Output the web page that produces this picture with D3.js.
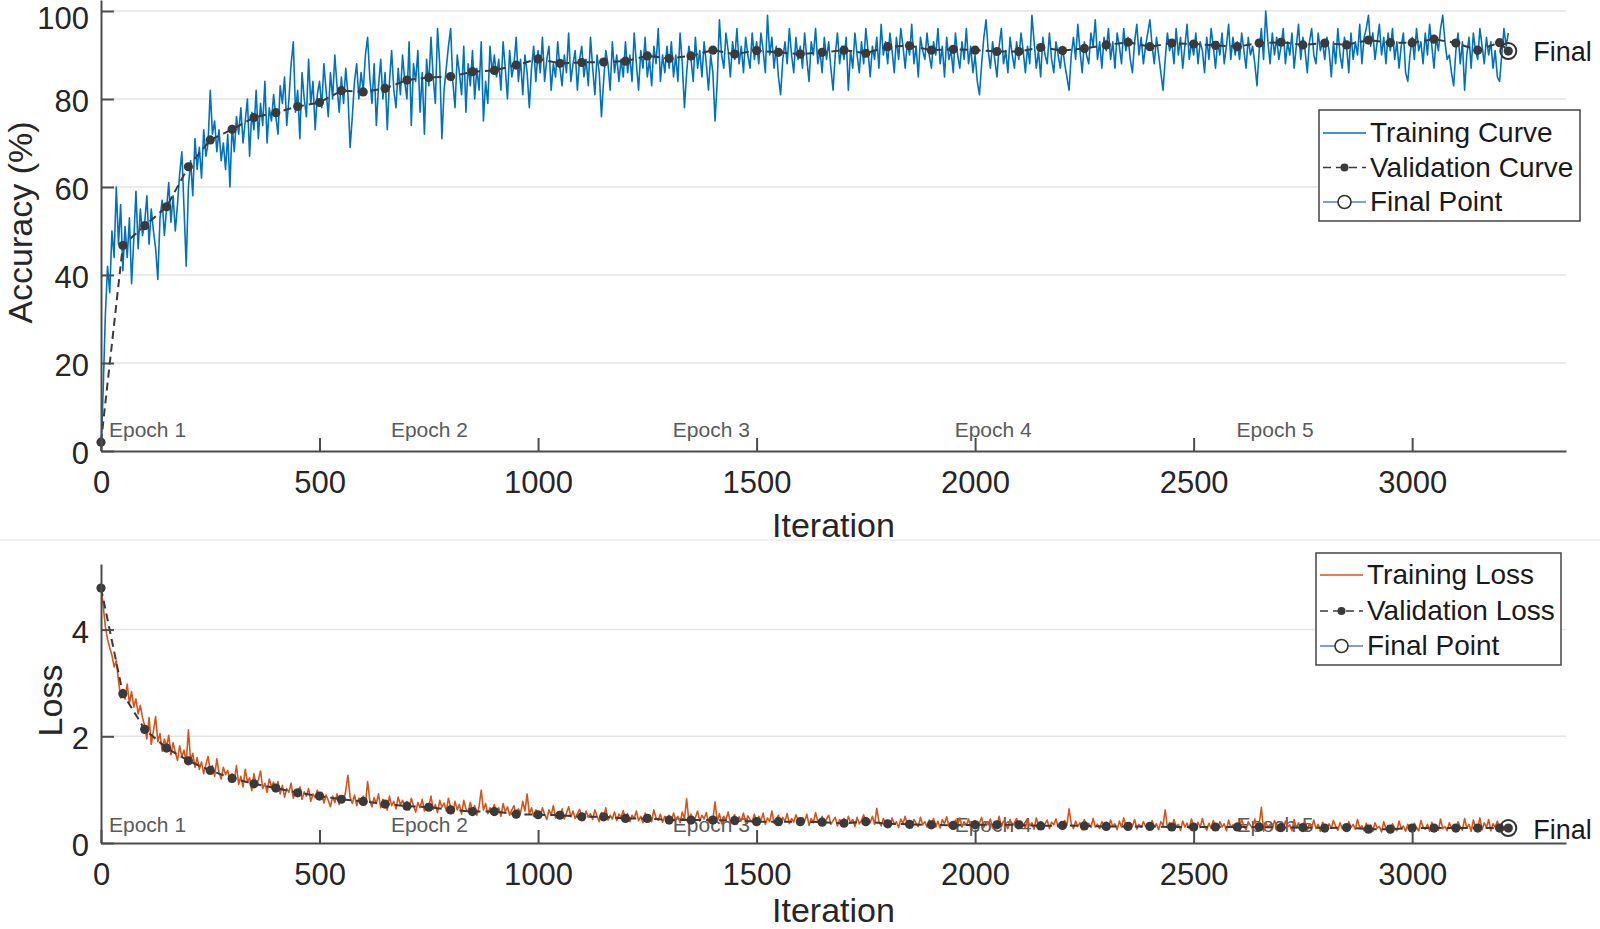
<!DOCTYPE html>
<html>
<head>
<meta charset="utf-8">
<script src="https://cdn.jsdelivr.net/npm/d3@7"></script>
<style>
  body { margin: 0; background: #fff; }
  svg { display: block; font-family: "Liberation Sans", Arial, Helvetica, sans-serif; }
  .grid line { stroke: #e4e4e4; stroke-width: 1.5; }
  .axis path, .axis line { stroke: #4d4d4d; stroke-width: 2; }
  .axis text { font-size: 31px; fill: #262626; font-family: "Liberation Sans", Arial, sans-serif; }
  .axis-label { font-size: 34px; fill: #262626; }
  .epoch { font-size: 21px; fill: #5a5a5a; }
  .legend text { font-size: 28px; fill: #1a1a1a; }
  .final-label { font-size: 27px; fill: #1a1a1a; }
</style>
</head>
<body>
<svg id="chart" width="1600" height="929"></svg>
<script>

// training curves, one value every 5 iterations (0 .. 3220)

let trainStep = 5;

let trainAcc = [
  0, 14, 31, 42, 36, 50, 44, 60, 47, 56, 41, 51, 44, 53, 38, 48, 59, 46, 55, 49,
  52, 58, 47, 55, 50, 46, 39, 53, 57, 49, 55, 61, 52, 58, 50, 56, 63, 68, 55, 42,
  60, 66, 58, 71, 64, 69, 62, 73, 67, 70, 82, 72, 75, 68, 73, 66, 70, 64, 72, 60,
  74, 68, 76, 72, 78, 70, 75, 80, 67, 77, 73, 82, 71, 79, 74, 84, 70, 78, 75, 81,
  76, 72, 83, 79, 85, 74, 80, 88, 93, 77, 82, 71, 86, 80, 76, 89, 79, 84, 73, 81,
  84, 78, 88, 82, 76, 86, 80, 90, 83, 77, 85, 79, 87, 81, 69, 76, 84, 88, 80, 86,
  82, 90, 94, 85, 79, 88, 74, 83, 89, 80, 86, 73, 84, 91, 82, 78, 87, 81, 90, 84,
  80, 93, 74, 88, 84, 91, 77, 86, 72, 89, 83, 94, 85, 79, 96, 88, 71, 82, 87, 92,
  96, 84, 78, 90, 86, 81, 92, 77, 88, 83, 91, 80, 87, 82, 93, 75, 84, 79, 92, 86,
  90, 85, 89, 82, 93, 87, 80, 91, 85, 88, 94, 84, 89, 81, 90, 86, 78, 87, 92, 84,
  91, 86, 94, 84, 89, 92, 82, 88, 85, 93, 87, 83, 90, 86, 95, 84, 88, 91, 82, 89,
  92, 85, 89, 83, 94, 87, 81, 90, 86, 76, 84, 91, 88, 82, 93, 86, 90, 84, 89, 85,
  93, 86, 90, 84, 95, 88, 82, 91, 87, 94, 85, 89, 83, 92, 88, 96, 84, 90, 86, 92,
  87, 93, 85, 90, 84, 95, 88, 78, 86, 92, 89, 84, 94, 87, 91, 85, 93, 88, 82, 90,
  86, 75, 84, 98, 90, 87, 95, 91, 85, 93, 89, 96, 88, 92, 86, 94, 90, 87, 95, 89,
  93, 88, 95, 91, 86, 99, 90, 94, 87, 92, 85, 81, 89, 93, 88, 96, 90, 86, 94, 89,
  92, 87, 95, 89, 84, 93, 90, 96, 88, 91, 86, 94, 89, 93, 87, 82, 90, 95, 88, 92,
  89, 94, 82, 91, 87, 95, 90, 86, 93, 88, 96, 91, 85, 92, 89, 94, 87, 97, 90, 93,
  88, 95, 91, 86, 94, 89, 96, 92, 87, 93, 90, 97, 88, 92, 85, 94, 91, 89, 95, 90,
  87, 93, 90, 96, 88, 92, 85, 94, 89, 91, 86, 95, 90, 87, 93, 89, 96, 88, 92, 86,
  90, 84, 81, 88, 94, 98, 91, 87, 93, 89, 85, 92, 96, 88, 91, 86, 94, 90, 87, 93,
  89, 95, 91, 86, 92, 88, 99, 93, 87, 91, 85, 94, 90, 88, 95, 89, 86, 93, 90, 87,
  92, 88, 85, 82, 90, 94, 89, 97, 91, 86, 93, 90, 88, 95, 92, 98, 89, 93, 87, 94,
  91, 96, 89, 93, 87, 95, 92, 88, 96, 91, 94, 89, 86, 93, 97, 90, 94, 88, 92, 95,
  98, 92, 88, 94, 90, 86, 82, 89, 95, 91, 93, 88, 96, 90, 94, 87, 92, 97, 89, 93,
  90, 95, 88, 93, 91, 86, 94, 89, 96, 92, 87, 93, 90, 95, 88, 92, 97, 89, 94, 90,
  93, 89, 95, 91, 87, 94, 90, 92, 88, 83, 91, 96, 89, 100, 93, 88, 95, 90, 94, 89,
  92, 96, 88, 93, 90, 95, 87, 92, 97, 89, 94, 91, 86, 93, 96, 90, 88, 95, 91, 93,
  89, 94, 91, 85, 93, 88, 96, 90, 87, 94, 92, 86, 95, 89, 93, 90, 97, 88, 94, 96,
  99, 92, 95, 89, 93, 97, 90, 94, 88, 95, 91, 96, 89, 93, 87, 92, 95, 86, 84, 90,
  94, 89, 96, 91, 93, 88, 95, 90, 97, 92, 87, 94, 91, 96, 99, 93, 89, 90, 86, 83,
  91, 95, 88, 93, 82, 90, 94, 87, 95, 91, 89, 96, 92, 88, 94, 90, 93, 87, 91, 85,
  84, 90, 96, 92, 95
];

let trainLoss = [
  4.85, 4.45, 4.05, 3.82, 3.66, 3.52, 3.30, 3.42, 3.05, 2.72, 2.88, 2.70, 2.98, 2.62, 2.84, 2.55, 2.70, 2.42, 2.58, 2.35,
  2.20, 1.95, 2.35, 1.85, 2.10, 2.37, 1.90, 2.05, 1.72, 1.95, 1.80, 2.02, 1.65, 1.88, 1.70, 1.55, 1.82, 1.62, 1.74, 1.50,
  2.12, 1.55, 1.68, 1.42, 1.60, 1.38, 1.52, 1.30, 1.47, 1.62, 1.35, 1.45, 1.25, 1.58, 1.32, 1.20, 1.42, 1.28, 1.36, 1.15,
  1.30, 1.18, 1.45, 1.10, 1.25, 1.05, 1.38, 1.15, 1.22, 0.98, 1.30, 1.08, 1.18, 1.35, 1.02, 1.12, 0.95, 1.20, 1.06, 1.14,
  0.98, 1.15, 0.92, 1.08, 0.86, 1.02, 0.95, 1.12, 0.84, 0.98, 0.90, 1.05, 0.82, 0.96, 0.88, 1.02, 0.78, 0.92, 0.85, 0.99,
  0.82, 0.95, 0.75, 0.90, 0.80, 0.68, 0.88, 0.76, 0.92, 0.72, 0.85, 0.78, 0.98, 1.27, 0.86, 0.74, 0.90, 0.70, 0.84, 0.78,
  0.88, 0.72, 1.15, 0.80, 0.68, 0.85, 0.74, 0.92, 0.66, 0.82, 0.75, 0.62, 0.88, 0.70, 0.78, 0.64, 0.86, 0.72, 0.80, 0.66,
  0.78, 0.62, 0.84, 0.70, 0.58, 0.76, 0.66, 0.82, 0.60, 0.74, 0.68, 0.88, 0.63, 0.72, 0.57, 0.80, 0.67, 0.75, 0.60, 0.84,
  0.66, 0.56, 0.78, 0.62, 0.72, 0.54, 0.80, 0.64, 0.58, 0.76, 0.60, 0.70, 0.52, 0.68, 0.99, 0.62, 0.74, 0.55, 0.66, 0.60,
  0.72, 0.55, 0.66, 0.50, 0.74, 0.58, 0.68, 0.52, 0.62, 0.70, 0.48, 0.64, 0.56, 0.78, 0.60, 0.92, 0.54, 0.66, 0.50, 0.62,
  0.58, 0.48, 0.66, 0.54, 0.44, 0.62, 0.52, 0.70, 0.47, 0.58, 0.50, 0.64, 0.45, 0.56, 0.68, 0.49, 0.60, 0.46, 0.55, 0.63,
  0.50, 0.42, 0.60, 0.48, 0.55, 0.44, 0.62, 0.50, 0.40, 0.57, 0.47, 0.66, 0.43, 0.52, 0.45, 0.58, 0.42, 0.54, 0.48, 0.61,
  0.44, 0.55, 0.40, 0.52, 0.46, 0.60, 0.42, 0.50, 0.38, 0.56, 0.45, 0.53, 0.40, 0.62, 0.47, 0.43, 0.54, 0.39, 0.50, 0.45,
  0.52, 0.40, 0.56, 0.44, 0.50, 0.38, 0.58, 0.46, 0.83, 0.42, 0.54, 0.37, 0.48, 0.60, 0.41, 0.52, 0.45, 0.57, 0.39, 0.49,
  0.44, 0.77, 0.40, 0.55, 0.36, 0.50, 0.43, 0.58, 0.38, 0.47, 0.53, 0.35, 0.49, 0.42, 0.56, 0.37, 0.51, 0.44, 0.40, 0.54,
  0.38, 0.50, 0.42, 0.56, 0.35, 0.47, 0.40, 0.60, 0.37, 0.45, 0.52, 0.34, 0.48, 0.41, 0.55, 0.36, 0.46, 0.39, 0.53, 0.43,
  0.36, 0.48, 0.41, 0.54, 0.33, 0.46, 0.38, 0.57, 0.40, 0.34, 0.50, 0.37, 0.45, 0.52, 0.35, 0.42, 0.48, 0.32, 0.44, 0.39,
  0.46, 0.34, 0.50, 0.38, 0.44, 0.31, 0.48, 0.36, 0.42, 0.53, 0.33, 0.45, 0.38, 0.50, 0.35, 0.65, 0.40, 0.32, 0.46, 0.37,
  0.42, 0.30, 0.47, 0.35, 0.40, 0.29, 0.45, 0.36, 0.50, 0.33, 0.41, 0.28, 0.44, 0.37, 0.31, 0.48, 0.34, 0.40, 0.30, 0.43,
  0.35, 0.46, 0.30, 0.41, 0.28, 0.44, 0.36, 0.49, 0.31, 0.38, 0.27, 0.43, 0.34, 0.47, 0.30, 0.40, 0.33, 0.45, 0.29, 0.39,
  0.42, 0.31, 0.37, 0.48, 0.29, 0.40, 0.34, 0.45, 0.28, 0.39, 0.33, 0.50, 0.30, 0.41, 0.36, 0.27, 0.44, 0.32, 0.38, 0.46,
  0.30, 0.41, 0.35, 0.28, 0.44, 0.32, 0.38, 0.26, 0.47, 0.33, 0.40, 0.29, 0.36, 0.43, 0.27, 0.39, 0.34, 0.45, 0.30, 0.37,
  0.28, 0.42, 0.33, 0.64, 0.36, 0.27, 0.41, 0.31, 0.38, 0.25, 0.44, 0.32, 0.37, 0.29, 0.46, 0.30, 0.35, 0.27, 0.40, 0.33,
  0.39, 0.28, 0.43, 0.31, 0.36, 0.25, 0.41, 0.30, 0.47, 0.33, 0.27, 0.38, 0.32, 0.44, 0.26, 0.35, 0.29, 0.40, 0.31, 0.37,
  0.27, 0.42, 0.30, 0.36, 0.25, 0.40, 0.33, 0.62, 0.29, 0.38, 0.26, 0.44, 0.31, 0.35, 0.24, 0.41, 0.30, 0.37, 0.27, 0.45,
  0.32, 0.26, 0.39, 0.29, 0.46, 0.31, 0.24, 0.37, 0.28, 0.42, 0.33, 0.25, 0.40, 0.30, 0.36, 0.23, 0.43, 0.29, 0.34, 0.27,
  0.38, 0.28, 0.44, 0.31, 0.25, 0.40, 0.33, 0.27, 0.45, 0.30, 0.36, 0.67, 0.22, 0.39, 0.29, 0.35, 0.26, 0.42, 0.31, 0.28,
  0.37, 0.25, 0.41, 0.30, 0.34, 0.23, 0.44, 0.28, 0.38, 0.26, 0.33, 0.40, 0.24, 0.36, 0.29, 0.43, 0.27, 0.35, 0.22, 0.39,
  0.30, 0.25, 0.36, 0.28, 0.42, 0.31, 0.24, 0.38, 0.27, 0.33, 0.22, 0.40, 0.29, 0.35, 0.26, 0.44, 0.28, 0.32, 0.23, 0.37,
  0.27, 0.34, 0.22, 0.38, 0.28, 0.31, 0.21, 0.40, 0.26, 0.33, 0.24, 0.36, 0.28, 0.23, 0.41, 0.27, 0.32, 0.22, 0.35, 0.29,
  0.25, 0.37, 0.29, 0.23, 0.42, 0.30, 0.26, 0.35, 0.22, 0.39, 0.28, 0.33, 0.24, 0.45, 0.27, 0.31, 0.23, 0.38, 0.29, 0.34,
  0.26, 0.40, 0.30, 0.24, 0.46, 0.28, 0.35, 0.22, 0.43, 0.31, 0.27, 0.47, 0.25, 0.38, 0.29, 0.44, 0.23, 0.36, 0.30, 0.41,
  0.27, 0.35, 0.24, 0.32, 0.29
];

// validation curves, every 50 iterations plus the final one

let valIters = d3.range(0, 3201, 50).concat([3220]);

let valAcc = [
  2, 46.7, 51.2, 55.5, 64.6, 70.7, 73.1, 75.8, 76.9, 78.3,
  79.2, 81.9, 81.6, 82.4, 84.3, 84.9, 85.1, 86.2, 86.5, 87.7,
  89.1, 88.1, 88.3, 88.4, 88.6, 89.8, 89.2, 89.8, 91.1, 90.2,
  91.0, 90.6, 90.2, 90.6, 91.1, 90.4, 91.9, 92.1, 91.1, 91.3,
  91.1, 90.8, 90.8, 91.7, 91.0, 91.5, 92.3, 92.9, 91.9, 92.7,
  92.5, 92.2, 91.9, 92.7, 92.9, 92.3, 92.7, 92.3, 93.4, 92.8,
  92.8, 93.6, 92.7, 91.1, 92.8, 90.9
];

let valLoss = [
  4.78, 2.80, 2.13, 1.78, 1.54, 1.36, 1.21, 1.11, 1.03, 0.94,
  0.88, 0.82, 0.78, 0.73, 0.69, 0.67, 0.62, 0.59, 0.59, 0.54,
  0.53, 0.52, 0.49, 0.49, 0.46, 0.46, 0.43, 0.43, 0.43, 0.42,
  0.40, 0.40, 0.40, 0.39, 0.37, 0.40, 0.36, 0.35, 0.34, 0.33,
  0.34, 0.34, 0.34, 0.32, 0.33, 0.32, 0.31, 0.31, 0.31, 0.30,
  0.30, 0.30, 0.30, 0.30, 0.29, 0.29, 0.28, 0.29, 0.26, 0.26,
  0.28, 0.28, 0.28, 0.28, 0.28, 0.28
];

// epochs and ticks

let epochNames = ["Epoch 1", "Epoch 2", "Epoch 3", "Epoch 4", "Epoch 5"];
let epochStarts = [0, 645, 1290, 1935, 2580];

let iterTicks = [0, 500, 1000, 1500, 2000, 2500, 3000];
let accTicks = [0, 20, 40, 60, 80, 100];
let lossTicks = [0, 2, 4];

let accLegend = ["Training Curve", "Validation Curve", "Final Point"];
let lossLegend = ["Training Loss", "Validation Loss", "Final Point"];

// layout

let xMax = 3352;
let xLeft = 101;
let xRight = 1566;

let blue = "#0072bd";
let orange = "#d95319";
let dark = "#3a3a3a";

let svg = d3.select("#chart");

let x = d3.scaleLinear().domain([0, xMax]).range([xLeft, xRight]);

let panels = [
  {
    train: trainAcc, val: valAcc, color: blue,
    y: d3.scaleLinear().domain([0, 102.5]).range([451, 0]),
    ticks: accTicks, label: "Accuracy (%)", labelX: 32,
    xLabelY: 537, epochLift: 14, finalLift: 10,
    legend: accLegend, legendBox: [1319, 110, 261, 111], legendBase: [142, 176.5, 211]
  },
  {
    train: trainLoss, val: valLoss, color: orange,
    y: d3.scaleLinear().domain([0, 5.23]).range([843, 564]),
    ticks: lossTicks, label: "Loss", labelX: 62,
    xLabelY: 922, epochLift: 11, finalLift: 11,
    legend: lossLegend, legendBox: [1316, 553, 245, 112], legendBase: [584, 620, 655]
  }
];

// faint separator between the two tiles
svg.append("line")
    .attr("x1", 0).attr("x2", 1600)
    .attr("y1", 540).attr("y2", 540)
    .attr("stroke", "#ececec")
    .attr("stroke-width", 1.5);

panels.forEach(function(p) {

  let y = p.y;
  let y0 = y.range()[0];
  let root = svg.append("g");

  // horizontal grid
  root.append("g")
      .attr("class", "grid")
    .selectAll("line")
    .data(p.ticks.filter(d => d > 0))
    .join("line")
      .attr("x1", xLeft).attr("x2", xRight)
      .attr("y1", d => y(d)).attr("y2", d => y(d));

  // epoch labels
  root.selectAll(".epoch")
    .data(epochStarts)
    .join("text")
      .attr("class", "epoch")
      .attr("x", d => x(d) + 8)
      .attr("y", y0 - p.epochLift)
      .text((d, i) => epochNames[i]);

  // training curve
  root.append("path")
      .datum(p.train)
      .attr("fill", "none")
      .attr("stroke", p.color)
      .attr("stroke-width", 1.6)
      .attr("stroke-linejoin", "round")
      .attr("d", d3.line().x((d, i) => x(i * trainStep)).y(d => y(d)));

  // validation curve
  root.append("path")
      .datum(p.val)
      .attr("fill", "none")
      .attr("stroke", dark)
      .attr("stroke-width", 2)
      .attr("stroke-dasharray", "8,5")
      .attr("d", d3.line().x((d, i) => x(valIters[i])).y(d => y(d)));

  root.append("g")
    .selectAll("circle")
    .data(p.val)
    .join("circle")
      .attr("cx", (d, i) => x(valIters[i]))
      .attr("cy", d => y(d))
      .attr("r", 4.6)
      .attr("fill", dark);

  // final point
  let last = p.val.length - 1;
  let fx = x(valIters[last]);
  let fy = y(p.val[last]);

  root.append("circle")
      .attr("cx", fx).attr("cy", fy)
      .attr("r", 8)
      .attr("fill", "none")
      .attr("stroke", "#333")
      .attr("stroke-width", 2);

  root.append("text")
      .attr("class", "final-label")
      .attr("x", fx + 25)
      .attr("y", fy + p.finalLift)
      .text("Final");

  // axes
  root.append("g")
      .attr("class", "axis")
      .attr("transform", `translate(0,${y0})`)
      .call(d3.axisBottom(x).tickValues(iterTicks).tickFormat(d3.format("d"))
        .tickSizeInner(-13).tickSizeOuter(0).tickPadding(20));

  root.append("g")
      .attr("class", "axis")
      .attr("transform", `translate(${xLeft},0)`)
      .call(d3.axisLeft(y).tickValues(p.ticks).tickFormat(d3.format("d"))
        .tickSizeInner(-13).tickSizeOuter(0).tickPadding(12))
      .call(g => g.selectAll("text")
        .attr("dy", d => y(d) < 20 ? "0.58em" : "0.4em"));

  root.selectAll(".axis").attr("font-size", null).attr("font-family", null);

  // axis labels
  root.append("text")
      .attr("class", "axis-label")
      .attr("text-anchor", "middle")
      .attr("x", (xLeft + xRight) / 2)
      .attr("y", p.xLabelY)
      .text("Iteration");

  root.append("text")
      .attr("class", "axis-label")
      .attr("text-anchor", "middle")
      .attr("transform", `translate(${p.labelX},${(y.range()[0] + y.range()[1]) / 2 - 3}) rotate(-90)`)
      .text(p.label);

  // legend
  let [bx, by, bw, bh] = p.legendBox;
  let legend = root.append("g").attr("class", "legend");

  legend.append("rect")
      .attr("x", bx).attr("y", by)
      .attr("width", bw).attr("height", bh)
      .attr("fill", "#fff")
      .attr("stroke", "#444")
      .attr("stroke-width", 1.5);

  let sx0 = bx + 4;
  let sx1 = bx + 47;
  let sm = (sx0 + sx1) / 2;

  p.legendBase.forEach(function(base, i) {
    let cy = base - 9;
    let row = legend.append("g");

    if (i === 0) {
      row.append("line")
          .attr("x1", sx0).attr("x2", sx1).attr("y1", cy).attr("y2", cy)
          .attr("stroke", p.color).attr("stroke-width", 1.6);
    } else if (i === 1) {
      row.append("line")
          .attr("x1", sx0).attr("x2", sx1).attr("y1", cy).attr("y2", cy)
          .attr("stroke", dark).attr("stroke-width", 1.6)
          .attr("stroke-dasharray", "8,5");
      row.append("circle")
          .attr("cx", sm).attr("cy", cy).attr("r", 4)
          .attr("fill", dark);
    } else {
      row.append("line")
          .attr("x1", sx0).attr("x2", sx1).attr("y1", cy).attr("y2", cy)
          .attr("stroke", "#4f7fd0").attr("stroke-width", 1.4);
      row.append("circle")
          .attr("cx", sm).attr("cy", cy).attr("r", 6.5)
          .attr("fill", "#fff")
          .attr("stroke", "#333").attr("stroke-width", 1.6);
    }

    row.append("text")
        .attr("x", sx1 + 4)
        .attr("y", base)
        .text(p.legend[i]);
  });
});

</script>
</body>
</html>
